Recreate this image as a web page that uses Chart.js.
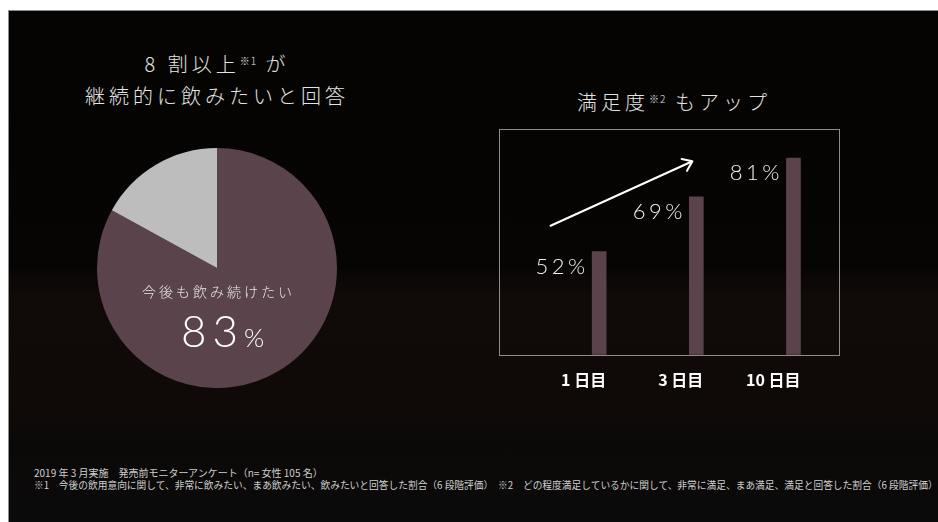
<!DOCTYPE html>
<html lang="ja">
<head>
<meta charset="utf-8">
<script src="https://cdn.jsdelivr.net/npm/chart.js@4.4.1/dist/chart.umd.min.js"></script>
<style>
body{margin:0;width:938px;height:522px;background:#fff;position:relative;overflow:hidden;font-family:"Noto Sans CJK JP",sans-serif;}
#stage{position:absolute;left:8px;top:10px;right:0;bottom:0;border-left:1px solid #8d8d8d;border-top:1px solid #8d8d8d;
  background:linear-gradient(to bottom,#060403 0%,#070504 50%,#100a08 56%,#0f0a08 78%,#0b0908 84%,#0b0a0a 100%);}
.t{position:absolute;color:#e4e4e4;font-size:20px;font-weight:300;letter-spacing:4px;line-height:20px;text-align:center;white-space:nowrap;}
.t sup{font-size:10px;letter-spacing:1px;vertical-align:top;position:relative;top:-3px;}
.note{position:absolute;left:34px;color:#cfcfcf;font-size:10px;line-height:12px;white-space:nowrap;}
#pieBox{position:absolute;left:97px;top:148px;width:240px;height:240px;}
#barBox{position:absolute;left:494px;top:128px;width:347px;height:270px;}
</style>
</head>
<body>
<div id="stage"></div>
<div class="t" style="left:0;width:434px;top:54px;">8 割以上<sup>※1</sup> が</div>
<div class="t" style="left:0;width:434px;top:86px;">継続的に飲みたいと回答</div>
<div class="t" style="left:574px;width:200px;top:92px;">満足度<sup>※2</sup> もアップ</div>
<div id="pieBox"><canvas id="pieChart"></canvas></div>
<div id="barBox"><canvas id="barChart"></canvas></div>
<div class="note" style="top:467px;">2019 年 3 月実施　発売前モニターアンケート（n= 女性 105 名）</div>
<div class="note" style="top:479px;font-size:9.72px;">※1　今後の飲用意向に関して、非常に飲みたい、まあ飲みたい、飲みたいと回答した割合（6 段階評価）　※2　どの程度満足しているかに関して、非常に満足、まあ満足、満足と回答した割合（6 段階評価）</div>
<script>
// pie: intent to keep drinking
const pieLabels = ['今後も飲み続けたい', 'その他'];
const pieValues = [83, 17];
const pieColors = ['#5b434b', '#bdbdbd'];

// bars: satisfaction by day
const dayLabels = ['1 日目', '3 日目', '10 日目'];
const dayPos = [0, 1, 2];
const satisfaction = [52, 69, 81];

// arrow drawn in data units (x = day index, y = %)
const arrowFrom = [-0.5, 60];
const arrowTo = [0.96, 80];

const jp = '"Noto Sans CJK JP", sans-serif';

const pieText = {
  id: 'pieText',
  afterDraw(chart) {
    const ctx = chart.ctx;
    const arc = chart.getDatasetMeta(0).data[0];
    const cx = arc.x, cy = arc.y;
    ctx.save();
    ctx.fillStyle = '#e6e6e6';
    ctx.textAlign = 'center';
    ctx.textBaseline = 'middle';
    ctx.font = '300 14px ' + jp;
    ctx.letterSpacing = '3px';
    ctx.fillText(pieLabels[0], cx + 1.5, cy + 24);
    ctx.textBaseline = 'alphabetic';
    ctx.fillStyle = '#fff';
    ctx.font = '300 44px Lato, sans-serif';
    ctx.letterSpacing = '6px';
    ctx.textAlign = 'right';
    ctx.fillText(String(pieValues[0]), cx + 27, cy + 79);
    ctx.font = '300 26px Lato, sans-serif';
    ctx.letterSpacing = '0px';
    ctx.textAlign = 'left';
    ctx.fillText('%', cx + 27, cy + 79);
    ctx.restore();
  }
};

new Chart(document.getElementById('pieChart'), {
  type: 'pie',
  data: {
    labels: pieLabels,
    datasets: [{data: pieValues, backgroundColor: pieColors, borderWidth: 0}]
  },
  options: {
    responsive: true,
    maintainAspectRatio: false,
    animation: false,
    plugins: {legend: {display: false}, tooltip: {enabled: false}}
  },
  plugins: [pieText]
});

const frame = {
  id: 'frame',
  beforeDatasetsDraw(chart) {
    const {ctx, chartArea: a} = chart;
    ctx.save();
    ctx.strokeStyle = '#8c8c8c';
    ctx.lineWidth = 1;
    ctx.strokeRect(Math.round(a.left) + 0.5, Math.round(a.top) + 0.5, Math.round(a.width) - 1, Math.round(a.height));
    ctx.restore();
  }
};

const valueLabels = {
  id: 'valueLabels',
  afterDatasetsDraw(chart) {
    const ctx = chart.ctx;
    ctx.save();
    ctx.font = '300 22px Lato, sans-serif';
    ctx.letterSpacing = '3.5px';
    ctx.fillStyle = '#f0f0f0';
    ctx.textAlign = 'right';
    chart.getDatasetMeta(0).data.forEach((bar, i) => {
      ctx.fillText(satisfaction[i] + '%', bar.x - bar.width / 2 - 7 + 3.5, bar.y + 22);
    });
    ctx.restore();
  }
};

const arrow = {
  id: 'arrow',
  afterDatasetsDraw(chart) {
    const {ctx, scales: {x, y}} = chart;
    const x0 = x.getPixelForValue(arrowFrom[0]), y0 = y.getPixelForValue(arrowFrom[1]);
    const x1 = x.getPixelForValue(arrowTo[0]), y1 = y.getPixelForValue(arrowTo[1]);
    const ang = Math.atan2(y1 - y0, x1 - x0);
    const len = 11, spread = Math.PI / 5;
    ctx.save();
    ctx.strokeStyle = '#fff';
    ctx.lineWidth = 2;
    ctx.lineCap = 'round';
    ctx.lineJoin = 'round';
    ctx.beginPath();
    ctx.moveTo(x0, y0);
    ctx.lineTo(x1, y1);
    ctx.moveTo(x1 - len * Math.cos(ang - spread), y1 - len * Math.sin(ang - spread));
    ctx.lineTo(x1, y1);
    ctx.lineTo(x1 - len * Math.cos(ang + spread), y1 - len * Math.sin(ang + spread));
    ctx.stroke();
    ctx.restore();
  }
};

new Chart(document.getElementById('barChart'), {
  type: 'bar',
  data: {
    datasets: [{
      data: dayPos.map((p, i) => ({x: p, y: satisfaction[i]})),
      backgroundColor: '#5b434b',
      barThickness: 14
    }]
  },
  options: {
    responsive: true,
    maintainAspectRatio: false,
    animation: false,
    layout: {padding: {left: 1, right: 1, top: 1}},
    plugins: {legend: {display: false}, tooltip: {enabled: false}},
    scales: {
      x: {
        type: 'linear',
        offset: false,
        min: -1.032,
        max: 2.479,
        grid: {display: false, offset: false},
        border: {display: false},
        ticks: {
          stepSize: 1,
          includeBounds: false,
          maxRotation: 0,
          autoSkip: false,
          align: 'end',
          labelOffset: 7,
          padding: 8,
          color: '#fff',
          font: {family: jp, size: 16, weight: 'bold'},
          callback: v => dayLabels[dayPos.indexOf(v)] ?? ''
        }
      },
      y: {display: false, min: 20, max: 90}
    }
  },
  plugins: [frame, valueLabels, arrow]
});
</script>
</body>
</html>
